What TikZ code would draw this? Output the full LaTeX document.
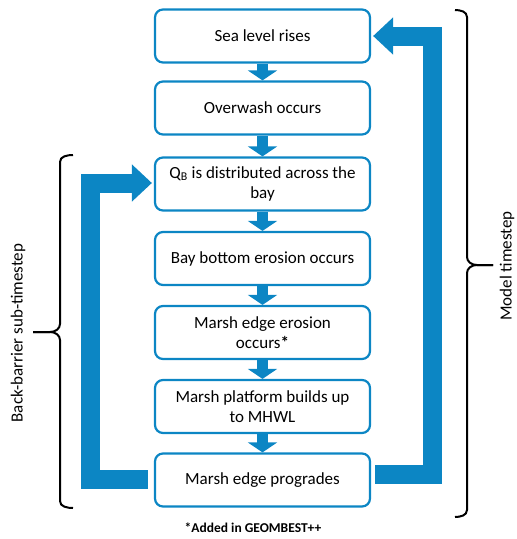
\documentclass[tikz,border=0pt]{standalone}
\usepackage{fontspec}
\setmainfont{Carlito}
\usetikzlibrary{arrows.meta,calc}
\definecolor{flowblue}{RGB}{12,134,196}
\tikzset{
  stepbox/.style={draw=flowblue, line width=2.2pt, rounded corners=8pt, fill=white,
    minimum width=215pt, minimum height=53pt, align=center, inner sep=2pt,
    font=\fontsize{17}{20.5}\selectfont},
  smallarrow/.style={draw=flowblue, line width=11pt,
    -{Triangle[width=29pt,length=10pt,fill=flowblue]}},
  bigarrow/.style={draw=flowblue, line width=19pt, line join=miter,
    -{Triangle[width=36pt,length=20pt,fill=flowblue]}},
  bracepath/.style={draw=black, line width=2pt},
  sidelabel/.style={rotate=90, inner sep=1pt, font=\fontsize{17}{20}\selectfont}
}
\begin{document}
\begin{tikzpicture}[x=1pt,y=-1pt]
\useasboundingbox (0,0) rectangle (517,539);
\node[stepbox] (b1) at (262.5,36) {Sea level rises};
\node[stepbox] (b2) at (262.5,108) {Overwash occurs};
\node[stepbox] (b3) at (262.5,184) {Q\textsubscript{B} is distributed across the\\bay};
\node[stepbox] (b4) at (262.5,258.5) {Bay bottom erosion occurs};
\node[stepbox] (b5) at (262.5,332.5) {Marsh edge erosion\\occurs\textbf{*}};
\node[stepbox] (b6) at (262.5,406.5) {Marsh platform builds up\\to MHWL};
\node[stepbox] (b7) at (262.5,480) {Marsh edge progrades};

\draw[smallarrow] (b1.south) -- (b2.north);
\draw[smallarrow] (b2.south) -- (b3.north);
\draw[smallarrow] (b3.south) -- (b4.north);
\draw[smallarrow] (b4.south) -- (b5.north);
\draw[smallarrow] (b5.south) -- (b6.north);
\draw[smallarrow] (b6.south) -- (b7.north);

\draw[bigarrow] ([xshift=-6pt,yshift=1pt]b7.west) -- ++(-57,0) |- ([xshift=-2pt,yshift=1pt]b3.west);
\draw[bigarrow] ([xshift=4pt,yshift=6pt]b7.east) -- ++(57,0) |- ([xshift=2pt]b1.east);

% left brace
\coordinate (lbt) at (73,155);
\coordinate (lbb) at (73,508);
\coordinate (lbm) at (33,332);
\draw[bracepath] (lbt) to[out=180,in=90] (60,162) -- (60,324) to[out=-90,in=0] (50,332) -- (lbm);
\draw[bracepath] (lbm) -- (50,332) to[out=0,in=90] (60,340) -- (60,501) to[out=-90,in=180] (lbb);

% right brace
\coordinate (rbt) at (455,10);
\coordinate (rbb) at (455,517);
\coordinate (rbm) at (493,265);
\draw[bracepath] (rbt) to[out=0,in=90] (467,17) -- (467,257) to[out=-90,in=180] (477,265) -- (rbm);
\draw[bracepath] (rbm) -- (477,265) to[out=180,in=90] (467,273) -- (467,510) to[out=-90,in=0] (rbb);

\node[sidelabel] (lbl) at (18,333) {Back-barrier sub-timestep};
\node[sidelabel] (rbl) at (507,266) {Model timestep};
\node[font=\fontsize{13.5}{16}\selectfont\bfseries] (note) at (253,528) {*Added in GEOMBEST++};
\end{tikzpicture}
\end{document}
